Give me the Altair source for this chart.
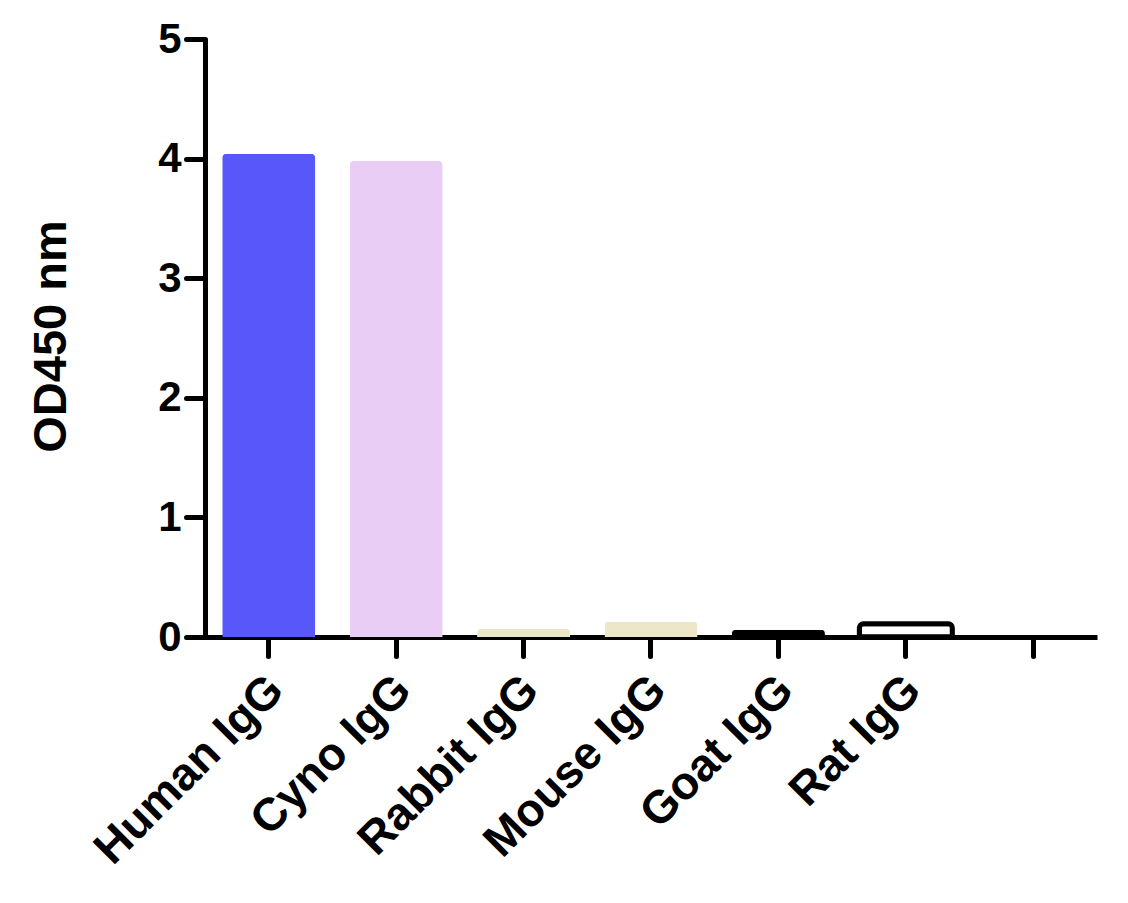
import altair as alt
import pandas as pd

categories = ["Human IgG", "Cyno IgG", "Rabbit IgG", "Mouse IgG", "Goat IgG", "Rat IgG"]
od450 = [4.04, 3.98, 0.07, 0.13, 0.06, 0.11]
bar_colors = ["#5858FA", "#E9CDF5", "#EDE7CA", "#EDE7CA", "#000000", "#FFFFFF"]
y_ticks = [0, 1, 2, 3, 4, 5]
x_slots = categories + ["(blank)"]

df = pd.DataFrame({"cat": categories, "od": od450})

FONT = "Liberation Sans"

x_scale = alt.Scale(domain=x_slots, paddingInner=0.27, paddingOuter=0.135)

x_enc = alt.X(
    "cat:N",
    scale=x_scale,
    axis=alt.Axis(
        title=None,
        labelAngle=-45,
        labelExpr="datum.value == '(blank)' ? '' : datum.value",
        labelLimit=0,
        labelFont=FONT,
        labelFontWeight="bold",
        labelFontSize=46,
        labelColor="black",
        labelPadding=11,
        labelOffset=-8,
        domainWidth=5,
        domainColor="black",
        tickWidth=5,
        tickSize=19,
        tickColor="black",
        tickCap="round",
    ),
)

y_enc = alt.Y(
    "od:Q",
    scale=alt.Scale(domain=[0, 5], nice=False, zero=True),
    axis=alt.Axis(
        values=y_ticks,
        format="d",
        title="OD450 nm",
        titleFont=FONT,
        titleFontWeight="bold",
        titleFontSize=47,
        titleColor="black",
        titleX=-130,
        titleY=297,
        titleAngle=-90,
        titleAlign="center",
        titleBaseline="bottom",
        labelFont=FONT,
        labelFontWeight="bold",
        labelFontSize=42,
        labelColor="black",
        labelPadding=5,
        grid=False,
        domainWidth=5,
        domainColor="black",
        tickWidth=5,
        tickSize=19,
        tickColor="black",
        tickCap="round",
    ),
)

bars = alt.Chart(df).mark_bar(cornerRadiusTopLeft=4, cornerRadiusTopRight=4).encode(
    x=x_enc,
    y=y_enc,
    color=alt.Color("cat:N", scale=alt.Scale(domain=categories, range=bar_colors), legend=None),
)

rat = alt.Chart(df).transform_filter(alt.datum.cat == "Rat IgG").mark_bar(
    cornerRadiusTopLeft=4, cornerRadiusTopRight=4, fill="white", stroke="black", strokeWidth=5
).encode(x=alt.X("cat:N", scale=x_scale), y="od:Q")

chart = alt.layer(bars, rat).properties(
    width=892,
    height=598,
    autosize=alt.AutoSizeParams(type="none"),
    padding={"left": 197, "top": 31, "right": 20, "bottom": 250},
    background="white",
).configure_view(stroke=None)

chart.save("out.html", embed_options={"renderer": "svg", "actions": False})
